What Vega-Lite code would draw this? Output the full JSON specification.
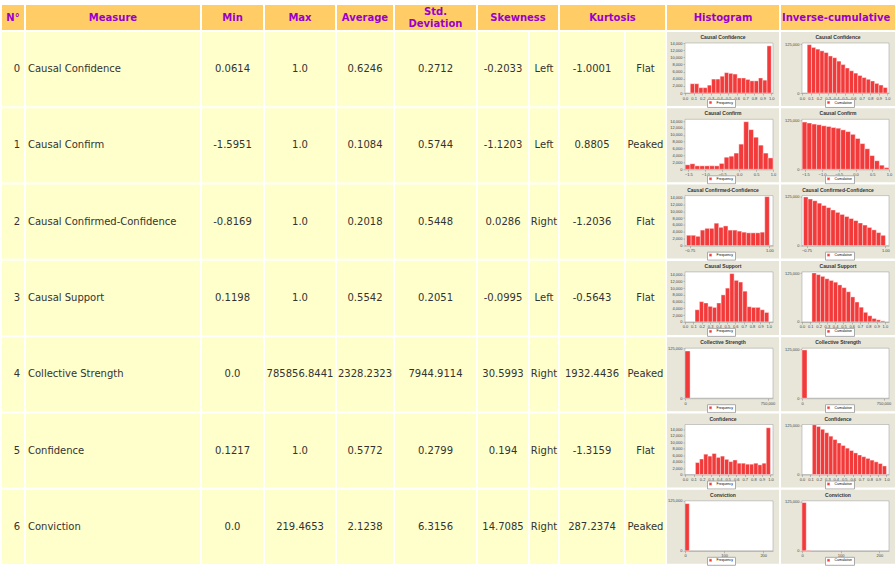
{
"$schema": "https://vega.github.io/schema/vega-lite/v6.json",
"padding": {"left": 2, "top": 5, "right": 0, "bottom": 0},
"background": "white",
"config": {
 "view": {"stroke": null},
 "concat": {"spacing": 2},
 "text": {"font": "DejaVu Sans", "fontSize": 10, "fill": "#333333"},
 "bar": {"stroke": "white", "strokeWidth": 0.4},
 "title": {"fontSize": 5, "font": "Liberation Sans", "fontWeight": "bold", "color": "#333333", "offset": -8, "baseline": "bottom"},
 "axis": {"zindex": 1, "labelOverlap": false, "labelFontSize": 4, "labelFont": "Liberation Sans", "labelColor": "#444444", "tickSize": 2, "labelPadding": 1, "domainColor": "#888888", "tickColor": "#888888", "domainWidth": 0.5, "tickWidth": 0.5, "gridColor": "#dddddd", "gridWidth": 0.5, "gridOpacity": 0.7, "labelFlush": false},
 "legend": {"orient": "none", "legendY": 67, "labelFontSize": 3.5, "labelFont": "Liberation Sans", "symbolSize": 8, "symbolType": "square", "padding": 1.5, "strokeColor": "#aaaaaa", "fillColor": "#ffffff", "symbolStrokeWidth": 0}
},
"datasets": {
 "rows": [
  {"n":0,"m":"Causal Confidence","min":"0.0614","max":"1.0","avg":"0.6246","sd":"0.2712","sk":"-0.2033","skd":"Left","ku":"-1.0001","kud":"Flat"},
  {"n":1,"m":"Causal Confirm","min":"-1.5951","max":"1.0","avg":"0.1084","sd":"0.5744","sk":"-1.1203","skd":"Left","ku":"0.8805","kud":"Peaked"},
  {"n":2,"m":"Causal Confirmed-Confidence","min":"-0.8169","max":"1.0","avg":"0.2018","sd":"0.5448","sk":"0.0286","skd":"Right","ku":"-1.2036","kud":"Flat"},
  {"n":3,"m":"Causal Support","min":"0.1198","max":"1.0","avg":"0.5542","sd":"0.2051","sk":"-0.0995","skd":"Left","ku":"-0.5643","kud":"Flat"},
  {"n":4,"m":"Collective Strength","min":"0.0","max":"785856.8441","avg":"2328.2323","sd":"7944.9114","sk":"30.5993","skd":"Right","ku":"1932.4436","kud":"Peaked"},
  {"n":5,"m":"Confidence","min":"0.1217","max":"1.0","avg":"0.5772","sd":"0.2799","sk":"0.194","skd":"Right","ku":"-1.3159","kud":"Flat"},
  {"n":6,"m":"Conviction","min":"0.0","max":"219.4653","avg":"2.1238","sd":"6.3156","sk":"14.7085","skd":"Right","ku":"287.2374","kud":"Peaked"}
 ],
 "bins": [
  {"n":0,"k":"h","lo":0.061,"hi":0.111,"v":2600},{"n":0,"k":"h","lo":0.111,"hi":0.160,"v":2600},{"n":0,"k":"h","lo":0.160,"hi":0.210,"v":1500},{"n":0,"k":"h","lo":0.210,"hi":0.259,"v":1500},{"n":0,"k":"h","lo":0.259,"hi":0.308,"v":2200},{"n":0,"k":"h","lo":0.308,"hi":0.358,"v":3900},{"n":0,"k":"h","lo":0.358,"hi":0.407,"v":3900},{"n":0,"k":"h","lo":0.407,"hi":0.457,"v":4700},{"n":0,"k":"h","lo":0.457,"hi":0.506,"v":5700},{"n":0,"k":"h","lo":0.506,"hi":0.555,"v":5500},{"n":0,"k":"h","lo":0.555,"hi":0.605,"v":5300},{"n":0,"k":"h","lo":0.605,"hi":0.654,"v":4200},{"n":0,"k":"h","lo":0.654,"hi":0.704,"v":4200},{"n":0,"k":"h","lo":0.704,"hi":0.753,"v":3800},{"n":0,"k":"h","lo":0.753,"hi":0.802,"v":3400},{"n":0,"k":"h","lo":0.802,"hi":0.852,"v":3400},{"n":0,"k":"h","lo":0.852,"hi":0.901,"v":4200},{"n":0,"k":"h","lo":0.901,"hi":0.951,"v":3600},{"n":0,"k":"h","lo":0.951,"hi":1.0,"v":13200},
  {"n":0,"k":"c","lo":0.061,"hi":0.111,"v":123700},{"n":0,"k":"c","lo":0.111,"hi":0.160,"v":116700},{"n":0,"k":"c","lo":0.160,"hi":0.210,"v":112300},{"n":0,"k":"c","lo":0.210,"hi":0.259,"v":107900},{"n":0,"k":"c","lo":0.259,"hi":0.308,"v":103500},{"n":0,"k":"c","lo":0.308,"hi":0.358,"v":94700},{"n":0,"k":"c","lo":0.358,"hi":0.407,"v":90400},{"n":0,"k":"c","lo":0.407,"hi":0.457,"v":81600},{"n":0,"k":"c","lo":0.457,"hi":0.506,"v":72800},{"n":0,"k":"c","lo":0.506,"hi":0.555,"v":64000},{"n":0,"k":"c","lo":0.555,"hi":0.605,"v":57000},{"n":0,"k":"c","lo":0.605,"hi":0.654,"v":50900},{"n":0,"k":"c","lo":0.654,"hi":0.704,"v":44700},{"n":0,"k":"c","lo":0.704,"hi":0.753,"v":39500},{"n":0,"k":"c","lo":0.753,"hi":0.802,"v":35100},{"n":0,"k":"c","lo":0.802,"hi":0.852,"v":30700},{"n":0,"k":"c","lo":0.852,"hi":0.901,"v":24600},{"n":0,"k":"c","lo":0.901,"hi":0.951,"v":20200},{"n":0,"k":"c","lo":0.951,"hi":1.0,"v":14000},
  {"n":1,"k":"h","lo":-1.595,"hi":-1.451,"v":1300},{"n":1,"k":"h","lo":-1.451,"hi":-1.307,"v":1600},{"n":1,"k":"h","lo":-1.307,"hi":-1.163,"v":1000},{"n":1,"k":"h","lo":-1.163,"hi":-1.018,"v":1000},{"n":1,"k":"h","lo":-1.018,"hi":-0.874,"v":1000},{"n":1,"k":"h","lo":-0.874,"hi":-0.730,"v":1000},{"n":1,"k":"h","lo":-0.730,"hi":-0.586,"v":1000},{"n":1,"k":"h","lo":-0.586,"hi":-0.442,"v":1700},{"n":1,"k":"h","lo":-0.442,"hi":-0.298,"v":3500},{"n":1,"k":"h","lo":-0.298,"hi":-0.153,"v":3800},{"n":1,"k":"h","lo":-0.153,"hi":-0.009,"v":4700},{"n":1,"k":"h","lo":-0.009,"hi":0.135,"v":7300},{"n":1,"k":"h","lo":0.135,"hi":0.279,"v":13800},{"n":1,"k":"h","lo":0.279,"hi":0.423,"v":11500},{"n":1,"k":"h","lo":0.423,"hi":0.567,"v":9300},{"n":1,"k":"h","lo":0.567,"hi":0.712,"v":7000},{"n":1,"k":"h","lo":0.712,"hi":0.856,"v":4700},{"n":1,"k":"h","lo":0.856,"hi":1.0,"v":3300},
  {"n":1,"k":"c","lo":-1.595,"hi":-1.451,"v":121000},{"n":1,"k":"c","lo":-1.451,"hi":-1.307,"v":118400},{"n":1,"k":"c","lo":-1.307,"hi":-1.163,"v":115800},{"n":1,"k":"c","lo":-1.163,"hi":-1.018,"v":114000},{"n":1,"k":"c","lo":-1.018,"hi":-0.874,"v":111400},{"n":1,"k":"c","lo":-0.874,"hi":-0.730,"v":109600},{"n":1,"k":"c","lo":-0.730,"hi":-0.586,"v":107000},{"n":1,"k":"c","lo":-0.586,"hi":-0.442,"v":105200},{"n":1,"k":"c","lo":-0.442,"hi":-0.298,"v":100900},{"n":1,"k":"c","lo":-0.298,"hi":-0.153,"v":96500},{"n":1,"k":"c","lo":-0.153,"hi":-0.009,"v":89500},{"n":1,"k":"c","lo":-0.009,"hi":0.135,"v":78900},{"n":1,"k":"c","lo":0.135,"hi":0.279,"v":65800},{"n":1,"k":"c","lo":0.279,"hi":0.423,"v":52600},{"n":1,"k":"c","lo":0.423,"hi":0.567,"v":35100},{"n":1,"k":"c","lo":0.567,"hi":0.712,"v":21900},{"n":1,"k":"c","lo":0.712,"hi":0.856,"v":10500},{"n":1,"k":"c","lo":0.856,"hi":1.0,"v":4400},
  {"n":2,"k":"h","lo":-0.817,"hi":-0.716,"v":3000},{"n":2,"k":"h","lo":-0.716,"hi":-0.615,"v":3000},{"n":2,"k":"h","lo":-0.615,"hi":-0.514,"v":2700},{"n":2,"k":"h","lo":-0.514,"hi":-0.413,"v":4500},{"n":2,"k":"h","lo":-0.413,"hi":-0.312,"v":5000},{"n":2,"k":"h","lo":-0.312,"hi":-0.211,"v":5000},{"n":2,"k":"h","lo":-0.211,"hi":-0.110,"v":6500},{"n":2,"k":"h","lo":-0.110,"hi":-0.009,"v":5300},{"n":2,"k":"h","lo":-0.009,"hi":0.092,"v":5700},{"n":2,"k":"h","lo":0.092,"hi":0.193,"v":4500},{"n":2,"k":"h","lo":0.193,"hi":0.293,"v":4500},{"n":2,"k":"h","lo":0.293,"hi":0.394,"v":4200},{"n":2,"k":"h","lo":0.394,"hi":0.495,"v":3900},{"n":2,"k":"h","lo":0.495,"hi":0.596,"v":3700},{"n":2,"k":"h","lo":0.596,"hi":0.697,"v":3700},{"n":2,"k":"h","lo":0.697,"hi":0.798,"v":3700},{"n":2,"k":"h","lo":0.798,"hi":0.899,"v":3900},{"n":2,"k":"h","lo":0.899,"hi":1.0,"v":14200},
  {"n":2,"k":"c","lo":-0.817,"hi":-0.716,"v":124500},{"n":2,"k":"c","lo":-0.716,"hi":-0.615,"v":119300},{"n":2,"k":"c","lo":-0.615,"hi":-0.514,"v":114900},{"n":2,"k":"c","lo":-0.514,"hi":-0.413,"v":108700},{"n":2,"k":"c","lo":-0.413,"hi":-0.312,"v":102600},{"n":2,"k":"c","lo":-0.312,"hi":-0.211,"v":97300},{"n":2,"k":"c","lo":-0.211,"hi":-0.110,"v":91200},{"n":2,"k":"c","lo":-0.110,"hi":-0.009,"v":85100},{"n":2,"k":"c","lo":-0.009,"hi":0.092,"v":79800},{"n":2,"k":"c","lo":0.092,"hi":0.193,"v":74500},{"n":2,"k":"c","lo":0.193,"hi":0.293,"v":69300},{"n":2,"k":"c","lo":0.293,"hi":0.394,"v":64000},{"n":2,"k":"c","lo":0.394,"hi":0.495,"v":57900},{"n":2,"k":"c","lo":0.495,"hi":0.596,"v":52600},{"n":2,"k":"c","lo":0.596,"hi":0.697,"v":46500},{"n":2,"k":"c","lo":0.697,"hi":0.798,"v":40300},{"n":2,"k":"c","lo":0.798,"hi":0.899,"v":33300},{"n":2,"k":"c","lo":0.899,"hi":1.0,"v":26300},
  {"n":3,"k":"h","lo":0.120,"hi":0.172,"v":3600},{"n":3,"k":"h","lo":0.172,"hi":0.223,"v":6000},{"n":3,"k":"h","lo":0.223,"hi":0.275,"v":5600},{"n":3,"k":"h","lo":0.275,"hi":0.327,"v":4600},{"n":3,"k":"h","lo":0.327,"hi":0.379,"v":4300},{"n":3,"k":"h","lo":0.379,"hi":0.431,"v":5600},{"n":3,"k":"h","lo":0.431,"hi":0.482,"v":8000},{"n":3,"k":"h","lo":0.482,"hi":0.534,"v":10000},{"n":3,"k":"h","lo":0.534,"hi":0.586,"v":14300},{"n":3,"k":"h","lo":0.586,"hi":0.638,"v":12300},{"n":3,"k":"h","lo":0.638,"hi":0.689,"v":11800},{"n":3,"k":"h","lo":0.689,"hi":0.741,"v":9100},{"n":3,"k":"h","lo":0.741,"hi":0.793,"v":4500},{"n":3,"k":"h","lo":0.793,"hi":0.845,"v":4300},{"n":3,"k":"h","lo":0.845,"hi":0.897,"v":4300},{"n":3,"k":"h","lo":0.897,"hi":0.948,"v":3600},{"n":3,"k":"h","lo":0.948,"hi":1.0,"v":2800},
  {"n":3,"k":"c","lo":0.120,"hi":0.172,"v":125400},{"n":3,"k":"c","lo":0.172,"hi":0.223,"v":121000},{"n":3,"k":"c","lo":0.223,"hi":0.275,"v":116600},{"n":3,"k":"c","lo":0.275,"hi":0.327,"v":110500},{"n":3,"k":"c","lo":0.327,"hi":0.379,"v":106100},{"n":3,"k":"c","lo":0.379,"hi":0.431,"v":101700},{"n":3,"k":"c","lo":0.431,"hi":0.482,"v":94700},{"n":3,"k":"c","lo":0.482,"hi":0.534,"v":87700},{"n":3,"k":"c","lo":0.534,"hi":0.586,"v":77200},{"n":3,"k":"c","lo":0.586,"hi":0.638,"v":64000},{"n":3,"k":"c","lo":0.638,"hi":0.689,"v":50900},{"n":3,"k":"c","lo":0.689,"hi":0.741,"v":37700},{"n":3,"k":"c","lo":0.741,"hi":0.793,"v":24600},{"n":3,"k":"c","lo":0.793,"hi":0.845,"v":15800},{"n":3,"k":"c","lo":0.845,"hi":0.897,"v":8800},{"n":3,"k":"c","lo":0.897,"hi":0.948,"v":5300},{"n":3,"k":"c","lo":0.948,"hi":1.0,"v":2600},
  {"n":4,"k":"h","lo":0,"hi":46227,"v":118000},
  {"n":4,"k":"c","lo":0,"hi":46227,"v":123500},
  {"n":5,"k":"h","lo":0.122,"hi":0.171,"v":3700},{"n":5,"k":"h","lo":0.171,"hi":0.219,"v":4800},{"n":5,"k":"h","lo":0.219,"hi":0.268,"v":6300},{"n":5,"k":"h","lo":0.268,"hi":0.317,"v":5700},{"n":5,"k":"h","lo":0.317,"hi":0.366,"v":6500},{"n":5,"k":"h","lo":0.366,"hi":0.415,"v":5300},{"n":5,"k":"h","lo":0.415,"hi":0.463,"v":5700},{"n":5,"k":"h","lo":0.463,"hi":0.512,"v":4700},{"n":5,"k":"h","lo":0.512,"hi":0.561,"v":4000},{"n":5,"k":"h","lo":0.561,"hi":0.610,"v":4500},{"n":5,"k":"h","lo":0.610,"hi":0.659,"v":3500},{"n":5,"k":"h","lo":0.659,"hi":0.707,"v":3500},{"n":5,"k":"h","lo":0.707,"hi":0.756,"v":3200},{"n":5,"k":"h","lo":0.756,"hi":0.805,"v":3200},{"n":5,"k":"h","lo":0.805,"hi":0.854,"v":3500},{"n":5,"k":"h","lo":0.854,"hi":0.902,"v":3000},{"n":5,"k":"h","lo":0.902,"hi":0.951,"v":3500},{"n":5,"k":"h","lo":0.951,"hi":1.0,"v":14500},
  {"n":5,"k":"c","lo":0.122,"hi":0.171,"v":127200},{"n":5,"k":"c","lo":0.171,"hi":0.219,"v":122800},{"n":5,"k":"c","lo":0.219,"hi":0.268,"v":115800},{"n":5,"k":"c","lo":0.268,"hi":0.317,"v":107000},{"n":5,"k":"c","lo":0.317,"hi":0.366,"v":98200},{"n":5,"k":"c","lo":0.366,"hi":0.415,"v":89500},{"n":5,"k":"c","lo":0.415,"hi":0.463,"v":80700},{"n":5,"k":"c","lo":0.463,"hi":0.512,"v":74500},{"n":5,"k":"c","lo":0.512,"hi":0.561,"v":67500},{"n":5,"k":"c","lo":0.561,"hi":0.610,"v":61400},{"n":5,"k":"c","lo":0.610,"hi":0.659,"v":55300},{"n":5,"k":"c","lo":0.659,"hi":0.707,"v":50000},{"n":5,"k":"c","lo":0.707,"hi":0.756,"v":45600},{"n":5,"k":"c","lo":0.756,"hi":0.805,"v":41200},{"n":5,"k":"c","lo":0.805,"hi":0.854,"v":36800},{"n":5,"k":"c","lo":0.854,"hi":0.902,"v":32400},{"n":5,"k":"c","lo":0.902,"hi":0.951,"v":28100},{"n":5,"k":"c","lo":0.951,"hi":1.0,"v":21900},
  {"n":6,"k":"h","lo":0,"hi":10.97,"v":118000},
  {"n":6,"k":"c","lo":0,"hi":10.97,"v":123500},{"n":6,"k":"c","lo":10.97,"hi":21.95,"v":1500}
 ]
},
"spacing": 2,
"hconcat": [
 {"spacing": 2, "vconcat": [
  {"width": 22, "height": 25, "view": {"fill": "#FFCC66"}, "data": {"values": [{}]}, "mark": {"type": "text", "fontWeight": "bold", "fill": "#9900CC"}, "encoding": {"text": {"value": "N°"}}},
  {"width": 22, "height": 532, "data": {"name": "rows"}, "layer": [
   {"mark": {"type": "rect", "fill": "#FFFFCC"}, "encoding": {"y": {"field": "n", "type": "ordinal", "axis": null, "scale": {"paddingInner": 0.026, "paddingOuter": 0}}}},
   {"mark": {"type": "text", "dx": 4}, "encoding": {"y": {"field": "n", "type": "ordinal", "axis": null}, "text": {"field": "n"}}}
  ]}
 ]},
 {"spacing": 2, "vconcat": [
  {"width": 174, "height": 25, "view": {"fill": "#FFCC66"}, "data": {"values": [{}]}, "mark": {"type": "text", "fontWeight": "bold", "fill": "#9900CC"}, "encoding": {"text": {"value": "Measure"}}},
  {"width": 174, "height": 532, "data": {"name": "rows"}, "layer": [
   {"mark": {"type": "rect", "fill": "#FFFFCC"}, "encoding": {"y": {"field": "n", "type": "ordinal", "axis": null, "scale": {"paddingInner": 0.026, "paddingOuter": 0}}}},
   {"mark": {"type": "text", "align": "left"}, "encoding": {"x": {"value": 2}, "y": {"field": "n", "type": "ordinal", "axis": null}, "text": {"field": "m"}}}
  ]}
 ]},
 {"spacing": 2, "vconcat": [
  {"width": 61, "height": 25, "view": {"fill": "#FFCC66"}, "data": {"values": [{}]}, "mark": {"type": "text", "fontWeight": "bold", "fill": "#9900CC"}, "encoding": {"text": {"value": "Min"}}},
  {"width": 61, "height": 532, "data": {"name": "rows"}, "layer": [
   {"mark": {"type": "rect", "fill": "#FFFFCC"}, "encoding": {"y": {"field": "n", "type": "ordinal", "axis": null, "scale": {"paddingInner": 0.026, "paddingOuter": 0}}}},
   {"mark": {"type": "text"}, "encoding": {"y": {"field": "n", "type": "ordinal", "axis": null}, "text": {"field": "min"}}}
  ]}
 ]},
 {"spacing": 2, "vconcat": [
  {"width": 70, "height": 25, "view": {"fill": "#FFCC66"}, "data": {"values": [{}]}, "mark": {"type": "text", "fontWeight": "bold", "fill": "#9900CC"}, "encoding": {"text": {"value": "Max"}}},
  {"width": 70, "height": 532, "data": {"name": "rows"}, "layer": [
   {"mark": {"type": "rect", "fill": "#FFFFCC"}, "encoding": {"y": {"field": "n", "type": "ordinal", "axis": null, "scale": {"paddingInner": 0.026, "paddingOuter": 0}}}},
   {"mark": {"type": "text"}, "encoding": {"y": {"field": "n", "type": "ordinal", "axis": null}, "text": {"field": "max"}}}
  ]}
 ]},
 {"spacing": 2, "vconcat": [
  {"width": 56, "height": 25, "view": {"fill": "#FFCC66"}, "data": {"values": [{}]}, "mark": {"type": "text", "fontWeight": "bold", "fill": "#9900CC"}, "encoding": {"text": {"value": "Average"}}},
  {"width": 56, "height": 532, "data": {"name": "rows"}, "layer": [
   {"mark": {"type": "rect", "fill": "#FFFFCC"}, "encoding": {"y": {"field": "n", "type": "ordinal", "axis": null, "scale": {"paddingInner": 0.026, "paddingOuter": 0}}}},
   {"mark": {"type": "text"}, "encoding": {"y": {"field": "n", "type": "ordinal", "axis": null}, "text": {"field": "avg"}}}
  ]}
 ]},
 {"spacing": 2, "vconcat": [
  {"width": 81, "height": 25, "view": {"fill": "#FFCC66"}, "data": {"values": [{}]}, "layer": [
   {"mark": {"type": "text", "fontWeight": "bold", "fill": "#9900CC", "dy": -6}, "encoding": {"text": {"value": "Std."}}},
   {"mark": {"type": "text", "fontWeight": "bold", "fill": "#9900CC", "dy": 6}, "encoding": {"text": {"value": "Deviation"}}}
  ]},
  {"width": 81, "height": 532, "data": {"name": "rows"}, "layer": [
   {"mark": {"type": "rect", "fill": "#FFFFCC"}, "encoding": {"y": {"field": "n", "type": "ordinal", "axis": null, "scale": {"paddingInner": 0.026, "paddingOuter": 0}}}},
   {"mark": {"type": "text"}, "encoding": {"y": {"field": "n", "type": "ordinal", "axis": null}, "text": {"field": "sd"}}}
  ]}
 ]},
 {"spacing": 2, "vconcat": [
  {"width": 80, "height": 25, "view": {"fill": "#FFCC66"}, "data": {"values": [{}]}, "mark": {"type": "text", "fontWeight": "bold", "fill": "#9900CC"}, "encoding": {"text": {"value": "Skewness"}}},
  {"spacing": 2, "hconcat": [
   {"width": 50, "height": 532, "data": {"name": "rows"}, "layer": [
    {"mark": {"type": "rect", "fill": "#FFFFCC"}, "encoding": {"y": {"field": "n", "type": "ordinal", "axis": null, "scale": {"paddingInner": 0.026, "paddingOuter": 0}}}},
    {"mark": {"type": "text"}, "encoding": {"y": {"field": "n", "type": "ordinal", "axis": null}, "text": {"field": "sk"}}}
   ]},
   {"width": 28, "height": 532, "data": {"name": "rows"}, "layer": [
    {"mark": {"type": "rect", "fill": "#FFFFCC"}, "encoding": {"y": {"field": "n", "type": "ordinal", "axis": null, "scale": {"paddingInner": 0.026, "paddingOuter": 0}}}},
    {"mark": {"type": "text"}, "encoding": {"y": {"field": "n", "type": "ordinal", "axis": null}, "text": {"field": "skd"}}}
   ]}
  ]}
 ]},
 {"spacing": 2, "vconcat": [
  {"width": 105, "height": 25, "view": {"fill": "#FFCC66"}, "data": {"values": [{}]}, "mark": {"type": "text", "fontWeight": "bold", "fill": "#9900CC"}, "encoding": {"text": {"value": "Kurtosis"}}},
  {"spacing": 2, "hconcat": [
   {"width": 64, "height": 532, "data": {"name": "rows"}, "layer": [
    {"mark": {"type": "rect", "fill": "#FFFFCC"}, "encoding": {"y": {"field": "n", "type": "ordinal", "axis": null, "scale": {"paddingInner": 0.026, "paddingOuter": 0}}}},
    {"mark": {"type": "text"}, "encoding": {"y": {"field": "n", "type": "ordinal", "axis": null}, "text": {"field": "ku"}}}
   ]},
   {"width": 39, "height": 532, "data": {"name": "rows"}, "layer": [
    {"mark": {"type": "rect", "fill": "#FFFFCC"}, "encoding": {"y": {"field": "n", "type": "ordinal", "axis": null, "scale": {"paddingInner": 0.026, "paddingOuter": 0}}}},
    {"mark": {"type": "text"}, "encoding": {"y": {"field": "n", "type": "ordinal", "axis": null}, "text": {"field": "kud"}}}
   ]}
  ]}
 ]},
 {"spacing": 2, "vconcat": [
  {"width": 112, "height": 25, "view": {"fill": "#FFCC66"}, "data": {"values": [{}]}, "mark": {"type": "text", "fontWeight": "bold", "fill": "#9900CC"}, "encoding": {"text": {"value": "Histogram"}}},
  {"spacing": 2.3, "bounds": "flush", "resolve": {"scale": {"color": "independent"}, "legend": {"color": "independent"}}, "vconcat": [
   {"width": 112, "height": 74, "view": {"fill": "#E8E6D8"}, "title": "Causal Confidence", "layer": [
    {"data": {"values": [{}]}, "mark": {"type": "rect", "fill": "white", "stroke": "#999999", "strokeWidth": 0.5}, "encoding": {"x": {"datum": 0}, "x2": {"datum": 1.02}, "y": {"datum": 0}, "y2": {"datum": 14000}}},
    {"data": {"name": "bins"}, "transform": [{"filter": "datum.n==0&&datum.k=='h'"}], "mark": "bar", "encoding": {"x": {"field": "lo", "type": "quantitative", "title": null, "scale": {"domain": [0, 1.02], "nice": false, "zero": false, "range": [18, 106]}, "axis": {"format": ".1f", "tickCount": 10, "offset": -13, "labelOverlap": false}}, "x2": {"field": "hi"}, "y": {"field": "v", "type": "quantitative", "title": null, "scale": {"domain": [0, 14000], "nice": false, "range": [61, 11]}, "axis": {"tickCount": 7, "offset": -18, "labelOverlap": false}}, "y2": {"datum": 0}, "color": {"datum": "Frequency", "scale": {"range": ["#F23A3A"]}, "legend": {"title": null, "legendX": 40}}}}
   ]},
   {"width": 112, "height": 74, "view": {"fill": "#E8E6D8"}, "title": "Causal Confirm", "layer": [
    {"data": {"values": [{}]}, "mark": {"type": "rect", "fill": "white", "stroke": "#999999", "strokeWidth": 0.5}, "encoding": {"x": {"datum": -1.6}, "x2": {"datum": 1.0}, "y": {"datum": 0}, "y2": {"datum": 14500}}},
    {"data": {"name": "bins"}, "transform": [{"filter": "datum.n==1&&datum.k=='h'"}], "mark": "bar", "encoding": {"x": {"field": "lo", "type": "quantitative", "title": null, "scale": {"domain": [-1.6, 1.0], "nice": false, "zero": false, "range": [18, 106]}, "axis": {"format": ".1f", "tickCount": 5, "offset": -13, "labelOverlap": false}}, "x2": {"field": "hi"}, "y": {"field": "v", "type": "quantitative", "title": null, "scale": {"domain": [0, 14500], "nice": false, "range": [61, 11]}, "axis": {"tickCount": 7, "offset": -18, "labelOverlap": false}}, "y2": {"datum": 0}, "color": {"datum": "Frequency", "scale": {"range": ["#F23A3A"]}, "legend": {"title": null, "legendX": 40}}}}
   ]},
   {"width": 112, "height": 74, "view": {"fill": "#E8E6D8"}, "title": "Causal Confirmed-Confidence", "layer": [
    {"data": {"values": [{}]}, "mark": {"type": "rect", "fill": "white", "stroke": "#999999", "strokeWidth": 0.5}, "encoding": {"x": {"datum": -0.85}, "x2": {"datum": 1.08}, "y": {"datum": 0}, "y2": {"datum": 14500}}},
    {"data": {"name": "bins"}, "transform": [{"filter": "datum.n==2&&datum.k=='h'"}], "mark": "bar", "encoding": {"x": {"field": "lo", "type": "quantitative", "title": null, "scale": {"domain": [-0.85, 1.08], "nice": false, "zero": false, "range": [18, 106]}, "axis": {"format": ".2f", "values": [-0.75, -0.5, -0.25, 0, 0.25, 0.5, 0.75, 1.0], "offset": -13, "labelOverlap": false}}, "x2": {"field": "hi"}, "y": {"field": "v", "type": "quantitative", "title": null, "scale": {"domain": [0, 14500], "nice": false, "range": [61, 11]}, "axis": {"tickCount": 7, "offset": -18, "labelOverlap": false}}, "y2": {"datum": 0}, "color": {"datum": "Frequency", "scale": {"range": ["#F23A3A"]}, "legend": {"title": null, "legendX": 40}}}}
   ]},
   {"width": 112, "height": 74, "view": {"fill": "#E8E6D8"}, "title": "Causal Support", "layer": [
    {"data": {"values": [{}]}, "mark": {"type": "rect", "fill": "white", "stroke": "#999999", "strokeWidth": 0.5}, "encoding": {"x": {"datum": 0}, "x2": {"datum": 1.05}, "y": {"datum": 0}, "y2": {"datum": 14800}}},
    {"data": {"name": "bins"}, "transform": [{"filter": "datum.n==3&&datum.k=='h'"}], "mark": "bar", "encoding": {"x": {"field": "lo", "type": "quantitative", "title": null, "scale": {"domain": [0, 1.05], "nice": false, "zero": false, "range": [18, 106]}, "axis": {"format": ".1f", "tickCount": 10, "offset": -13, "labelOverlap": false}}, "x2": {"field": "hi"}, "y": {"field": "v", "type": "quantitative", "title": null, "scale": {"domain": [0, 14800], "nice": false, "range": [61, 11]}, "axis": {"tickCount": 7, "offset": -18, "labelOverlap": false}}, "y2": {"datum": 0}, "color": {"datum": "Frequency", "scale": {"range": ["#F23A3A"]}, "legend": {"title": null, "legendX": 40}}}}
   ]},
   {"width": 112, "height": 74, "view": {"fill": "#E8E6D8"}, "title": "Collective Strength", "layer": [
    {"data": {"values": [{}]}, "mark": {"type": "rect", "fill": "white", "stroke": "#999999", "strokeWidth": 0.5}, "encoding": {"x": {"datum": 0}, "x2": {"datum": 800000}, "y": {"datum": 0}, "y2": {"datum": 125000}}},
    {"data": {"name": "bins"}, "transform": [{"filter": "datum.n==4&&datum.k=='h'"}], "mark": "bar", "encoding": {"x": {"field": "lo", "type": "quantitative", "title": null, "scale": {"domain": [0, 800000], "nice": false, "zero": false, "range": [18, 106]}, "axis": {"values": [0, 250000, 500000, 750000], "offset": -13, "labelOverlap": false}}, "x2": {"field": "hi"}, "y": {"field": "v", "type": "quantitative", "title": null, "scale": {"domain": [0, 125000], "nice": false, "range": [61, 11]}, "axis": {"values": [0, 25000, 50000, 75000, 100000, 125000], "offset": -18, "labelOverlap": false}}, "y2": {"datum": 0}, "color": {"datum": "Frequency", "scale": {"range": ["#F23A3A"]}, "legend": {"title": null, "legendX": 40}}}}
   ]},
   {"width": 112, "height": 74, "view": {"fill": "#E8E6D8"}, "title": "Confidence", "layer": [
    {"data": {"values": [{}]}, "mark": {"type": "rect", "fill": "white", "stroke": "#999999", "strokeWidth": 0.5}, "encoding": {"x": {"datum": 0}, "x2": {"datum": 1.03}, "y": {"datum": 0}, "y2": {"datum": 15500}}},
    {"data": {"name": "bins"}, "transform": [{"filter": "datum.n==5&&datum.k=='h'"}], "mark": "bar", "encoding": {"x": {"field": "lo", "type": "quantitative", "title": null, "scale": {"domain": [0, 1.03], "nice": false, "zero": false, "range": [18, 106]}, "axis": {"format": ".1f", "tickCount": 10, "offset": -13, "labelOverlap": false}}, "x2": {"field": "hi"}, "y": {"field": "v", "type": "quantitative", "title": null, "scale": {"domain": [0, 15500], "nice": false, "range": [61, 11]}, "axis": {"tickCount": 7, "offset": -18, "labelOverlap": false}}, "y2": {"datum": 0}, "color": {"datum": "Frequency", "scale": {"range": ["#F23A3A"]}, "legend": {"title": null, "legendX": 40}}}}
   ]},
   {"width": 112, "height": 74, "view": {"fill": "#E8E6D8"}, "title": "Conviction", "layer": [
    {"data": {"values": [{}]}, "mark": {"type": "rect", "fill": "white", "stroke": "#999999", "strokeWidth": 0.5}, "encoding": {"x": {"datum": 0}, "x2": {"datum": 225}, "y": {"datum": 0}, "y2": {"datum": 125000}}},
    {"data": {"name": "bins"}, "transform": [{"filter": "datum.n==6&&datum.k=='h'"}], "mark": "bar", "encoding": {"x": {"field": "lo", "type": "quantitative", "title": null, "scale": {"domain": [0, 225], "nice": false, "zero": false, "range": [18, 106]}, "axis": {"values": [0, 25, 50, 75, 100, 125, 150, 175, 200, 225], "offset": -13, "labelOverlap": false}}, "x2": {"field": "hi"}, "y": {"field": "v", "type": "quantitative", "title": null, "scale": {"domain": [0, 125000], "nice": false, "range": [61, 11]}, "axis": {"values": [0, 25000, 50000, 75000, 100000, 125000], "offset": -18, "labelOverlap": false}}, "y2": {"datum": 0}, "color": {"datum": "Frequency", "scale": {"range": ["#F23A3A"]}, "legend": {"title": null, "legendX": 40}}}}
   ]}
  ]}
 ]},
 {"spacing": 2, "vconcat": [
  {"width": 114, "height": 25, "view": {"fill": "#FFCC66"}, "data": {"values": [{}]}, "mark": {"type": "text", "fontWeight": "bold", "fill": "#9900CC", "align": "left"}, "encoding": {"x": {"value": 1}, "text": {"value": "Inverse-cumulative"}}},
  {"spacing": 2.3, "bounds": "flush", "resolve": {"scale": {"color": "independent"}, "legend": {"color": "independent"}}, "vconcat": [
   {"width": 114, "height": 74, "view": {"fill": "#E8E6D8"}, "title": "Causal Confidence", "layer": [
    {"data": {"values": [{}]}, "mark": {"type": "rect", "fill": "white", "stroke": "#999999", "strokeWidth": 0.5}, "encoding": {"x": {"datum": 0}, "x2": {"datum": 1.02}, "y": {"datum": 0}, "y2": {"datum": 128000}}},
    {"data": {"name": "bins"}, "transform": [{"filter": "datum.n==0&&datum.k=='c'"}], "mark": "bar", "encoding": {"x": {"field": "lo", "type": "quantitative", "title": null, "scale": {"domain": [0, 1.02], "nice": false, "zero": false, "range": [21, 108]}, "axis": {"format": ".1f", "tickCount": 10, "offset": -13, "labelOverlap": false}}, "x2": {"field": "hi"}, "y": {"field": "v", "type": "quantitative", "title": null, "scale": {"domain": [0, 128000], "nice": false, "range": [61, 11]}, "axis": {"values": [0, 25000, 50000, 75000, 100000, 125000], "offset": -21, "labelOverlap": false}}, "y2": {"datum": 0}, "color": {"datum": "Cumulative", "scale": {"range": ["#F23A3A"]}, "legend": {"title": null, "legendX": 44}}}}
   ]},
   {"width": 114, "height": 74, "view": {"fill": "#E8E6D8"}, "title": "Causal Confirm", "layer": [
    {"data": {"values": [{}]}, "mark": {"type": "rect", "fill": "white", "stroke": "#999999", "strokeWidth": 0.5}, "encoding": {"x": {"datum": -1.6}, "x2": {"datum": 1.0}, "y": {"datum": 0}, "y2": {"datum": 128000}}},
    {"data": {"name": "bins"}, "transform": [{"filter": "datum.n==1&&datum.k=='c'"}], "mark": "bar", "encoding": {"x": {"field": "lo", "type": "quantitative", "title": null, "scale": {"domain": [-1.6, 1.0], "nice": false, "zero": false, "range": [21, 108]}, "axis": {"format": ".1f", "tickCount": 5, "offset": -13, "labelOverlap": false}}, "x2": {"field": "hi"}, "y": {"field": "v", "type": "quantitative", "title": null, "scale": {"domain": [0, 128000], "nice": false, "range": [61, 11]}, "axis": {"values": [0, 25000, 50000, 75000, 100000, 125000], "offset": -21, "labelOverlap": false}}, "y2": {"datum": 0}, "color": {"datum": "Cumulative", "scale": {"range": ["#F23A3A"]}, "legend": {"title": null, "legendX": 44}}}}
   ]},
   {"width": 114, "height": 74, "view": {"fill": "#E8E6D8"}, "title": "Causal Confirmed-Confidence", "layer": [
    {"data": {"values": [{}]}, "mark": {"type": "rect", "fill": "white", "stroke": "#999999", "strokeWidth": 0.5}, "encoding": {"x": {"datum": -0.85}, "x2": {"datum": 1.08}, "y": {"datum": 0}, "y2": {"datum": 128000}}},
    {"data": {"name": "bins"}, "transform": [{"filter": "datum.n==2&&datum.k=='c'"}], "mark": "bar", "encoding": {"x": {"field": "lo", "type": "quantitative", "title": null, "scale": {"domain": [-0.85, 1.08], "nice": false, "zero": false, "range": [21, 108]}, "axis": {"format": ".2f", "values": [-0.75, -0.5, -0.25, 0, 0.25, 0.5, 0.75, 1.0], "offset": -13, "labelOverlap": false}}, "x2": {"field": "hi"}, "y": {"field": "v", "type": "quantitative", "title": null, "scale": {"domain": [0, 128000], "nice": false, "range": [61, 11]}, "axis": {"values": [0, 25000, 50000, 75000, 100000, 125000], "offset": -21, "labelOverlap": false}}, "y2": {"datum": 0}, "color": {"datum": "Cumulative", "scale": {"range": ["#F23A3A"]}, "legend": {"title": null, "legendX": 44}}}}
   ]},
   {"width": 114, "height": 74, "view": {"fill": "#E8E6D8"}, "title": "Causal Support", "layer": [
    {"data": {"values": [{}]}, "mark": {"type": "rect", "fill": "white", "stroke": "#999999", "strokeWidth": 0.5}, "encoding": {"x": {"datum": 0}, "x2": {"datum": 1.05}, "y": {"datum": 0}, "y2": {"datum": 128000}}},
    {"data": {"name": "bins"}, "transform": [{"filter": "datum.n==3&&datum.k=='c'"}], "mark": "bar", "encoding": {"x": {"field": "lo", "type": "quantitative", "title": null, "scale": {"domain": [0, 1.05], "nice": false, "zero": false, "range": [21, 108]}, "axis": {"format": ".1f", "tickCount": 10, "offset": -13, "labelOverlap": false}}, "x2": {"field": "hi"}, "y": {"field": "v", "type": "quantitative", "title": null, "scale": {"domain": [0, 128000], "nice": false, "range": [61, 11]}, "axis": {"values": [0, 25000, 50000, 75000, 100000, 125000], "offset": -21, "labelOverlap": false}}, "y2": {"datum": 0}, "color": {"datum": "Cumulative", "scale": {"range": ["#F23A3A"]}, "legend": {"title": null, "legendX": 44}}}}
   ]},
   {"width": 114, "height": 74, "view": {"fill": "#E8E6D8"}, "title": "Collective Strength", "layer": [
    {"data": {"values": [{}]}, "mark": {"type": "rect", "fill": "white", "stroke": "#999999", "strokeWidth": 0.5}, "encoding": {"x": {"datum": 0}, "x2": {"datum": 800000}, "y": {"datum": 0}, "y2": {"datum": 128000}}},
    {"data": {"name": "bins"}, "transform": [{"filter": "datum.n==4&&datum.k=='c'"}], "mark": "bar", "encoding": {"x": {"field": "lo", "type": "quantitative", "title": null, "scale": {"domain": [0, 800000], "nice": false, "zero": false, "range": [21, 108]}, "axis": {"values": [0, 250000, 500000, 750000], "offset": -13, "labelOverlap": false}}, "x2": {"field": "hi"}, "y": {"field": "v", "type": "quantitative", "title": null, "scale": {"domain": [0, 128000], "nice": false, "range": [61, 11]}, "axis": {"values": [0, 25000, 50000, 75000, 100000, 125000], "offset": -21, "labelOverlap": false}}, "y2": {"datum": 0}, "color": {"datum": "Cumulative", "scale": {"range": ["#F23A3A"]}, "legend": {"title": null, "legendX": 44}}}}
   ]},
   {"width": 114, "height": 74, "view": {"fill": "#E8E6D8"}, "title": "Confidence", "layer": [
    {"data": {"values": [{}]}, "mark": {"type": "rect", "fill": "white", "stroke": "#999999", "strokeWidth": 0.5}, "encoding": {"x": {"datum": 0}, "x2": {"datum": 1.03}, "y": {"datum": 0}, "y2": {"datum": 128000}}},
    {"data": {"name": "bins"}, "transform": [{"filter": "datum.n==5&&datum.k=='c'"}], "mark": "bar", "encoding": {"x": {"field": "lo", "type": "quantitative", "title": null, "scale": {"domain": [0, 1.03], "nice": false, "zero": false, "range": [21, 108]}, "axis": {"format": ".1f", "tickCount": 10, "offset": -13, "labelOverlap": false}}, "x2": {"field": "hi"}, "y": {"field": "v", "type": "quantitative", "title": null, "scale": {"domain": [0, 128000], "nice": false, "range": [61, 11]}, "axis": {"values": [0, 25000, 50000, 75000, 100000, 125000], "offset": -21, "labelOverlap": false}}, "y2": {"datum": 0}, "color": {"datum": "Cumulative", "scale": {"range": ["#F23A3A"]}, "legend": {"title": null, "legendX": 44}}}}
   ]},
   {"width": 114, "height": 74, "view": {"fill": "#E8E6D8"}, "title": "Conviction", "layer": [
    {"data": {"values": [{}]}, "mark": {"type": "rect", "fill": "white", "stroke": "#999999", "strokeWidth": 0.5}, "encoding": {"x": {"datum": 0}, "x2": {"datum": 225}, "y": {"datum": 0}, "y2": {"datum": 128000}}},
    {"data": {"name": "bins"}, "transform": [{"filter": "datum.n==6&&datum.k=='c'"}], "mark": "bar", "encoding": {"x": {"field": "lo", "type": "quantitative", "title": null, "scale": {"domain": [0, 225], "nice": false, "zero": false, "range": [21, 108]}, "axis": {"values": [0, 25, 50, 75, 100, 125, 150, 175, 200, 225], "offset": -13, "labelOverlap": false}}, "x2": {"field": "hi"}, "y": {"field": "v", "type": "quantitative", "title": null, "scale": {"domain": [0, 128000], "nice": false, "range": [61, 11]}, "axis": {"values": [0, 25000, 50000, 75000, 100000, 125000], "offset": -21, "labelOverlap": false}}, "y2": {"datum": 0}, "color": {"datum": "Cumulative", "scale": {"range": ["#F23A3A"]}, "legend": {"title": null, "legendX": 44}}}}
   ]}
  ]}
 ]}
]
}
